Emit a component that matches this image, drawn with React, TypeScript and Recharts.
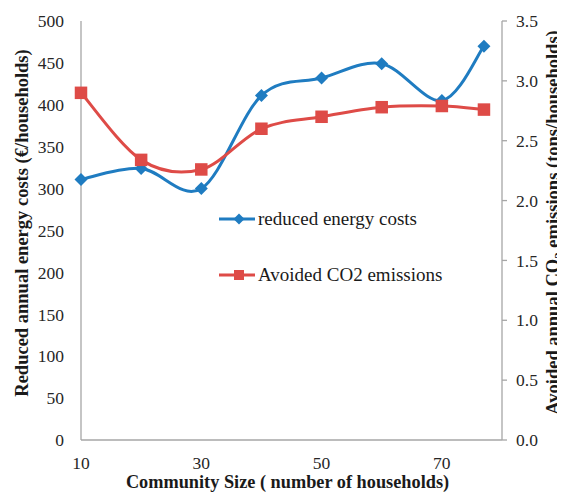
import React from "react";
import { LineChart, Line, XAxis, YAxis } from "recharts";

const sizes = [10, 20, 30, 40, 50, 60, 70, 77];
const energyCosts = [311, 324, 300, 411, 432, 449, 405, 470];
const co2Avoided = [2.9, 2.34, 2.26, 2.6, 2.7, 2.78, 2.79, 2.76];

const xTicks = [10, 30, 50, 70];
const costTicks = [0, 50, 100, 150, 200, 250, 300, 350, 400, 450, 500];
const co2Ticks = [0, 0.5, 1, 1.5, 2, 2.5, 3, 3.5];

const data = sizes.map((size, i) => ({
  size,
  cost: energyCosts[i],
  co2: co2Avoided[i],
}));

const BLUE = "#1f7cc1";
const RED = "#de4b47";
const AXIS = "#a6a6a6";
const FONT = "'Liberation Serif', 'DejaVu Serif', serif";

const series = [
  { key: "cost", name: "reduced energy costs", color: BLUE },
  { key: "co2", name: "Avoided CO2 emissions", color: RED },
];

// excel-style smoothing (catmull-rom through the points)
const excelCurve = (context: any) => {
  let pts: number[][] = [];
  return {
    areaStart() {},
    areaEnd() {},
    lineStart() {
      pts = [];
    },
    point(x: number, y: number) {
      pts.push([+x, +y]);
    },
    lineEnd() {
      const n = pts.length;
      if (!n) return;
      context.moveTo(pts[0][0], pts[0][1]);
      for (let i = 0; i < n - 1; i++) {
        const p0 = pts[Math.max(i - 1, 0)];
        const p1 = pts[i];
        const p2 = pts[i + 1];
        const p3 = pts[Math.min(i + 2, n - 1)];
        context.bezierCurveTo(
          p1[0] + (p2[0] - p0[0]) / 6,
          p1[1] + (p2[1] - p0[1]) / 6,
          p2[0] - (p3[0] - p1[0]) / 6,
          p2[1] - (p3[1] - p1[1]) / 6,
          p2[0],
          p2[1]
        );
      }
    },
  };
};

const Diamond = ({ cx, cy, r = 6.5, fill }: any) => (
  <path d={`M${cx},${cy - r}L${cx + r},${cy}L${cx},${cy + r}L${cx - r},${cy}Z`} fill={fill} />
);

const Square = ({ cx, cy, s = 12.5, fill }: any) => (
  <rect x={cx - s / 2} y={cy - s / 2} width={s} height={s} fill={fill} />
);

const ChartLegend = () => (
  <div style={{ position: "absolute", left: 211, top: 182.5, fontFamily: FONT, fontSize: 19, color: "#1a1a1a" }}>
    {series.map((s) => (
      <div key={s.key} style={{ display: "flex", alignItems: "center", height: 56 }}>
        <svg width={38} height={16} style={{ marginRight: 1 }}>
          <line x1={0} y1={8} x2={36} y2={8} stroke={s.color} strokeWidth={3} />
          {s.key === "cost" ? (
            <Diamond cx={20} cy={8} r={5.5} fill={s.color} />
          ) : (
            <Square cx={20} cy={8} s={10} fill={s.color} />
          )}
        </svg>
        <span>{s.name}</span>
      </div>
    ))}
  </div>
);

const LeftTitle = ({ viewBox }: any) => {
  const x = viewBox.x + 19.5;
  const y = viewBox.y + viewBox.height / 2 - 7.5;
  return (
    <text x={x} y={y} transform={`rotate(-90 ${x} ${y})`} textAnchor="middle"
      fontFamily={FONT} fontSize={18.5} fontWeight="bold" fill="#1a1a1a">
      Reduced annual energy costs (€/households)
    </text>
  );
};

const RightTitle = ({ viewBox }: any) => {
  const x = viewBox.x + viewBox.width - 6;
  const y = viewBox.y + viewBox.height / 2 - 8;
  return (
    <text x={x} y={y} transform={`rotate(-90 ${x} ${y})`} textAnchor="middle"
      fontFamily={FONT} fontSize={18.5} fontWeight="bold" fill="#1a1a1a">
      Avoided annual CO<tspan fontSize={13} dy={4}>2</tspan>
      <tspan dy={-4}> emissions (tons/households)</tspan>
    </text>
  );
};

const BottomTitle = ({ viewBox }: any) => (
  <text x={viewBox.x + viewBox.width / 2 - 4} y={viewBox.y + 48} textAnchor="middle"
    fontFamily={FONT} fontSize={18.3} fontWeight="bold" fill="#1a1a1a">
    Community Size ( number of households)
  </text>
);

const tickStyle = { fontFamily: FONT, fontSize: 17.5, fill: "#262626" };

export default function App() {
  return (
    <div style={{ position: "relative", width: 557, height: 486 }}>
      <LineChart width={557} height={486} data={data} margin={{ top: 13, right: 0, bottom: 0, left: 0 }}>
        <XAxis
          dataKey="size"
          type="number"
          domain={[10, 80]}
          ticks={xTicks}
          tick={tickStyle}
          tickLine={false}
          tickSize={0}
          tickMargin={17}
          height={54}
          axisLine={{ stroke: AXIS, strokeWidth: 1.3 }}
          label={<BottomTitle />}
        />
        <YAxis
          yAxisId="left"
          domain={[0, 500]}
          ticks={costTicks}
          tick={tickStyle}
          tickLine={false}
          tickSize={0}
          tickMargin={17}
          width={73}
          axisLine={{ stroke: AXIS, strokeWidth: 1.3 }}
          label={<LeftTitle />}
        />
        <YAxis
          yAxisId="right"
          orientation="right"
          domain={[0, 3.5]}
          ticks={co2Ticks}
          tickFormatter={(v: number) => v.toFixed(1)}
          tick={{ ...tickStyle, textAnchor: "start" }}
          tickLine={{ stroke: AXIS, strokeWidth: 1.3 }}
          tickSize={5}
          tickMargin={9}
          width={63}
          axisLine={{ stroke: AXIS, strokeWidth: 1.3 }}
          label={<RightTitle />}
        />
        <Line
          yAxisId="left"
          dataKey="cost"
          name="reduced energy costs"
          type={excelCurve as any}
          stroke={BLUE}
          strokeWidth={3}
          dot={(p: any) => <Diamond key={`d${p.index}`} cx={p.cx} cy={p.cy} fill={BLUE} />}
          activeDot={false}
          isAnimationActive={false}
        />
        <Line
          yAxisId="right"
          dataKey="co2"
          name="Avoided CO2 emissions"
          type={excelCurve as any}
          stroke={RED}
          strokeWidth={3}
          dot={(p: any) => <Square key={`s${p.index}`} cx={p.cx} cy={p.cy} fill={RED} />}
          activeDot={false}
          isAnimationActive={false}
        />
      </LineChart>
      <ChartLegend />
    </div>
  );
}
